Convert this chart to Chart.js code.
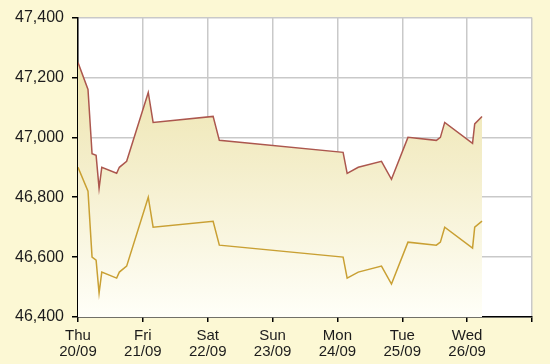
<!DOCTYPE html>
<html>
<head>
<meta charset="utf-8">
<script src="https://cdn.jsdelivr.net/npm/chart.js@4/dist/chart.umd.min.js"></script>
<style>
  html, body { margin: 0; padding: 0; background: #fcf8d4; }
  #wrap { width: 550px; height: 364px; position: relative; }
</style>
</head>
<body>
<div id="wrap"><canvas id="chart"></canvas></div>
<script>
// hours since Thu 20/09 00:00
const hours = [0, 3.7, 5.2, 6.7, 7.8, 8.8, 14.3, 15.3, 18, 26, 27.8, 50, 52.3, 98.1, 99.6, 103.7, 112.3, 116, 122.1, 132.6, 134.1, 135.7, 146, 146.8, 149.5];
const sellValues = [47250, 47160, 46945, 46940, 46830, 46900, 46880, 46900, 46920, 47150, 47050, 47070, 46990, 46950, 46880, 46900, 46920, 46860, 47000, 46990, 47000, 47050, 46980, 47045, 47070];
const buyValues = [46900, 46820, 46600, 46590, 46480, 46550, 46530, 46550, 46570, 46800, 46700, 46720, 46640, 46600, 46530, 46550, 46570, 46510, 46650, 46640, 46650, 46700, 46630, 46700, 46720];
const dayLabels = ["Thu", "Fri", "Sat", "Sun", "Mon", "Tue", "Wed"];
const dateLabels = ["20/09", "21/09", "22/09", "23/09", "24/09", "25/09", "26/09"];

const toPoints = (vals) => vals.map((v, i) => ({ x: hours[i], y: v }));
const textColor = "#1c1c1c";
const gridColor = "#c9c9c9";

const plotBg = {
  id: "plotBg",
  beforeDraw(chart) {
    const { ctx, chartArea: a } = chart;
    ctx.save();
    ctx.fillStyle = "#ffffff";
    ctx.fillRect(a.left, a.top, a.right - a.left, a.bottom - a.top);
    ctx.restore();
  },
};

function areaGradient(context) {
  const { chart } = context;
  const a = chart.chartArea;
  if (!a) return "rgba(0,0,0,0)";
  const g = chart.ctx.createLinearGradient(0, a.top, 0, a.bottom);
  g.addColorStop(0, "#ebe1a2");
  g.addColorStop(0.5, "#f4eecb");
  g.addColorStop(1, "#fffff8");
  return g;
}

new Chart(document.getElementById("chart"), {
  type: "line",
  data: {
    datasets: [
      { data: toPoints(sellValues), borderColor: "#ac574e", borderWidth: 1.5, backgroundColor: areaGradient, fill: "start", pointRadius: 0, tension: 0 },
      { data: toPoints(buyValues), borderColor: "#c9a033", borderWidth: 1.5, fill: false, pointRadius: 0, tension: 0 },
    ],
  },
  options: {
    responsive: true,
    maintainAspectRatio: false,
    animation: false,
    layout: { padding: { top: 13, right: 18, left: 0, bottom: 0 } },
    plugins: { legend: { display: false }, tooltip: { enabled: false }, filler: { drawTime: "beforeDatasetsDraw" } },
    scales: {
      x: {
        type: "linear", min: 0, max: 168,
        ticks: {
          stepSize: 24, autoSkip: false, maxRotation: 0, padding: 6, color: textColor,
          font: { family: "Liberation Sans, Arial, sans-serif", size: 15, lineHeight: 1.05 },
          callback: (v) => { const i = Math.round(v / 24); return i < dayLabels.length ? [dayLabels[i], dateLabels[i]] : ""; },
        },
        grid: { color: gridColor, lineWidth: 1.5, tickColor: "#000", tickLength: 5 },
        border: { color: "#000", width: 1.5 },
        afterFit: (s) => { s.height = 47; },
      },
      y: {
        min: 46400, max: 47400,
        ticks: {
          stepSize: 200, padding: 8, color: textColor,
          font: { family: "Liberation Sans, Arial, sans-serif", size: 16 },
          callback: (v) => v.toLocaleString("en-US"),
        },
        grid: { color: gridColor, lineWidth: 1.5, tickColor: "#000", tickLength: 6 },
        border: { color: "#000", width: 1.5 },
        afterFit: (s) => { s.width = 78; },
      },
    },
  },
  plugins: [plotBg],
});
</script>
</body>
</html>
